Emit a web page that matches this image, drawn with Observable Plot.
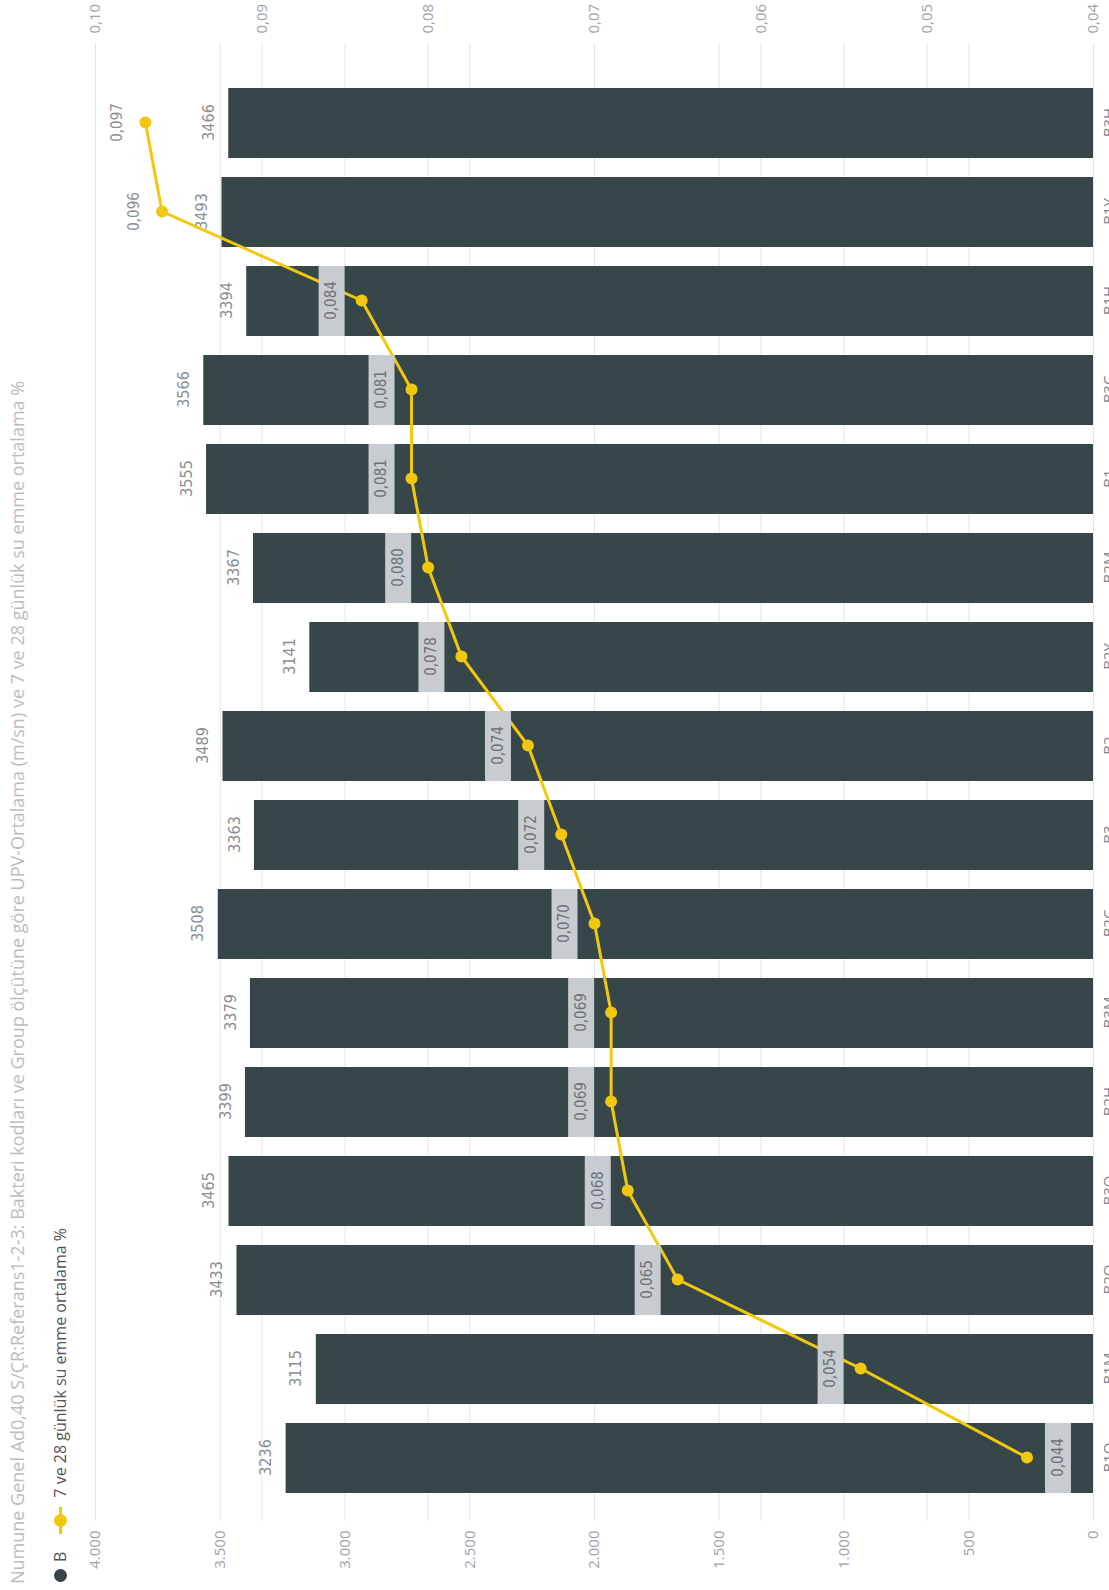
<!DOCTYPE html>
<html>
<head>
<meta charset="utf-8">
<script src="https://cdn.jsdelivr.net/npm/d3@7"></script>
<script src="https://cdn.jsdelivr.net/npm/@observablehq/plot@0.6"></script>
<style>
  html, body { margin: 0; padding: 0; background: #fff; overflow: hidden; }
  #page { position: relative; width: 1109px; height: 1590px; overflow: hidden; background: #fff; }
  /* the report visual is laid out landscape, then turned a quarter turn counter-clockwise */
  #visual {
    position: absolute; left: 0; top: 0; width: 1590px; height: 1109px;
    transform-origin: 0 0; transform: translate(0, 1590px) rotate(-90deg);
    font-family: "Open Sans", "Noto Sans", sans-serif; background: #fff;
  }
  #title { position: absolute; left: 6px; top: 4px; font-size: 18px; line-height: 26px; color: #bcbcbc; white-space: nowrap; }
  #legend { position: absolute; left: 8px; top: 49px; height: 22px; display: flex; align-items: center; font-size: 16px; color: #555; white-space: nowrap; }
  .sw-dot { width: 13px; height: 13px; border-radius: 50%; background: #374649; display: inline-block; }
  .sw-line { position: relative; width: 27px; height: 13px; display: inline-block; margin-left: 18px; margin-right: 9px; }
  .sw-line::before { content: ""; position: absolute; left: 0; right: 0; top: 5px; height: 3px; background: #F2C80F; }
  .sw-line::after { content: ""; position: absolute; left: 7px; top: 0; width: 13px; height: 13px; border-radius: 50%; background: #F2C80F; }
  #layers { position: absolute; left: 0; top: 76px; width: 1590px; height: 1033px; }
  #layers svg { position: absolute; left: 0; top: 0; }
</style>
</head>
<body>
<div id="page">
  <div id="visual">
    <div id="title">Numune Genel Ad0,40 S/ÇR:Referans1-2-3: Bakteri kodları ve Group ölçütüne göre UPV-Ortalama (m/sn) ve 7 ve 28 günlük su emme ortalama %</div>
    <div id="legend"><span class="sw-dot"></span><span style="margin-left:7px">B</span><span class="sw-line"></span><span>7 ve 28 günlük su emme ortalama %</span></div>
    <div id="layers"></div>
  </div>
</div>
<script>
// Bacteria code / group combinations, in axis order
const categories = ["B1O", "B1M", "B2O", "B3O", "B2H", "B3M", "B2Ç", "B3", "B2", "B2Y", "B2M", "B1", "B3Ç", "B1H", "B1Y", "B3H"];
// UPV average (m/sn) – bars, left axis
const upv = [3236, 3115, 3433, 3465, 3399, 3379, 3508, 3363, 3489, 3141, 3367, 3555, 3566, 3394, 3493, 3466];
// 7 and 28 day water absorption average % – line, right axis
const suEmme = [0.044, 0.054, 0.065, 0.068, 0.069, 0.069, 0.070, 0.072, 0.074, 0.078, 0.080, 0.081, 0.081, 0.084, 0.096, 0.097];
// axis ticks
const upvTicks = [0, 500, 1000, 1500, 2000, 2500, 3000, 3500, 4000];
const suTicks = [0.04, 0.05, 0.06, 0.07, 0.08, 0.09, 0.10];
const upvDomain = [0, 4000];
const suDomain = [0.04, 0.10];

const tr = d3.formatLocale({decimal: ",", thousands: ".", grouping: [3], currency: ["", ""]});
const fmtUpvAxis = tr.format(",.0f");
const fmtUpvLabel = tr.format(".0f");
const fmtSuAxis = tr.format(".2f");
const fmtSuLabel = tr.format(".3f");

const rows = categories.map((cat, i) => ({cat, upv: upv[i], su: suEmme[i], i}));

// a line label sits on top of its bar when it is lower than the bar end on the shared frame
const overBar = d => (d.su - suDomain[0]) / (suDomain[1] - suDomain[0]) < (d.upv - upvDomain[0]) / (upvDomain[1] - upvDomain[0]);
// the first marker carries its label underneath, all the others above
const labelBelow = d => d.i === 0;

const narrow = "'Liberation Sans Narrow', 'DejaVu Sans Condensed', Roboto, sans-serif";
const gridColor = "#e6e6e6";
const tickColor = "#9ea3a8";

const frame = {
  width: 1590, height: 1033,
  marginTop: 19, marginBottom: 16, marginLeft: 69, marginRight: 43,
  style: {background: "transparent", fontFamily: "'Open Sans', 'Noto Sans', sans-serif"}
};
const xBand = {type: "band", domain: categories, paddingInner: 0.21, paddingOuter: 0.353, align: 0.38};

// right-hand scale: its grid and tick labels, underneath the bars
const backLayer = Plot.plot({
  ...frame,
  x: {...xBand, axis: null},
  y: {domain: suDomain},
  marks: [
    Plot.gridY(suTicks, {stroke: gridColor, strokeOpacity: 1}),
    Plot.axisY(suTicks, {anchor: "right", tickSize: 0, tickPadding: 9, tickFormat: fmtSuAxis, fontSize: 15, fill: tickColor, label: null})
  ]
});

// UPV bars with their value labels and the left axis
const barLayer = Plot.plot({
  ...frame,
  x: xBand,
  y: {domain: upvDomain},
  marks: [
    Plot.gridY(upvTicks, {stroke: gridColor, strokeOpacity: 1}),
    Plot.barY(rows, {x: "cat", y: "upv", fill: "#374649"}),
    Plot.text(rows, {x: "cat", y: "upv", text: d => fmtUpvLabel(d.upv), dy: -20, fill: "#8a8f94", fontSize: 16, fontFamily: narrow}),
    Plot.axisY(upvTicks, {anchor: "left", tickSize: 0, tickPadding: 10, tickFormat: fmtUpvAxis, fontSize: 15, fill: tickColor, label: null}),
    Plot.axisX({tickSize: 0, tickPadding: 10, fontSize: 15, fill: "#7d8287", label: null})
  ]
});

// water absorption line, markers and labels
const boxedAbove = rows.filter(d => overBar(d) && !labelBelow(d));
const boxedBelow = rows.filter(d => overBar(d) && labelBelow(d));
const plain = rows.filter(d => !overBar(d));
const lineLayer = Plot.plot({
  ...frame,
  x: {...xBand, axis: null},
  y: {domain: suDomain, axis: null},
  marks: [
    Plot.line(rows, {x: "cat", y: "su", stroke: "#F2C80F", strokeWidth: 3}),
    Plot.dot(rows, {x: "cat", y: "su", r: 6, fill: "#F2C80F"}),
    Plot.tickY(boxedAbove, {x: "cat", y: "su", dy: -30, stroke: "#c8ccd0", strokeWidth: 26}),
    Plot.tickY(boxedBelow, {x: "cat", y: "su", dy: 31, stroke: "#c8ccd0", strokeWidth: 26}),
    Plot.text(boxedAbove, {x: "cat", y: "su", dy: -30, text: d => fmtSuLabel(d.su), fill: "#6e7378", fontSize: 15, fontFamily: narrow}),
    Plot.text(boxedBelow, {x: "cat", y: "su", dy: 31, text: d => fmtSuLabel(d.su), fill: "#6e7378", fontSize: 15, fontFamily: narrow}),
    Plot.text(plain, {x: "cat", y: "su", dy: -28, text: d => fmtSuLabel(d.su), fill: "#8a8f94", fontSize: 15, fontFamily: narrow})
  ]
});

const layers = document.getElementById("layers");
layers.append(backLayer, barLayer, lineLayer);
</script>
</body>
</html>
